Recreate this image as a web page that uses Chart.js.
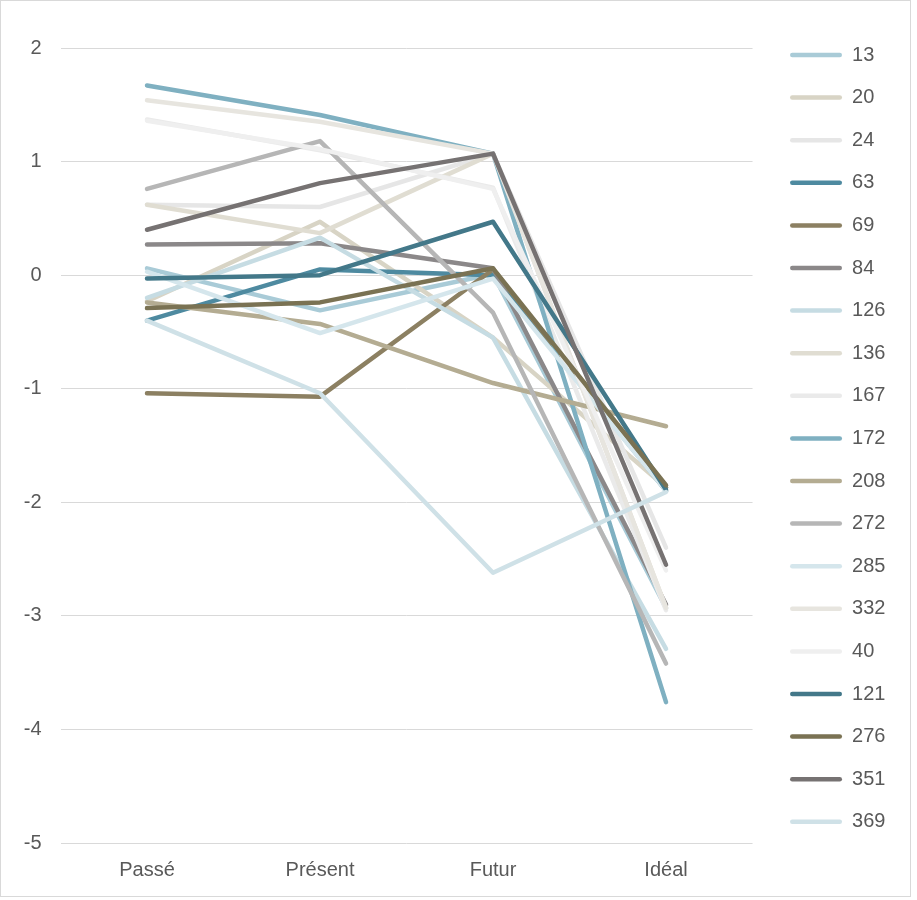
<!DOCTYPE html>
<html>
<head>
<meta charset="utf-8">
<script src="https://cdn.jsdelivr.net/npm/chart.js@4.4.1/dist/chart.umd.min.js"></script>
<style>
  html, body { margin: 0; padding: 0; background: #ffffff; }
  #frame {
    position: absolute; left: 0; top: 0;
    width: 909px; height: 895px;
    border: 1px solid #d9d9d9;
    background: #ffffff;
  }
  #chart { display: block; }
</style>
</head>
<body>
<div id="frame"><canvas id="chart" width="909" height="895"></canvas></div>
<script>
// Categories on the x axis
const categories = ['Passé', 'Présent', 'Futur', 'Idéal'];

// One array per respondent
const s13  = [0.06, -0.31, 0.01, -2.93];
const s20  = [-0.23, 0.47, -0.55, -1.87];
const s24  = [0.62, 0.60, 1.07, -2.40];
const s63  = [-0.40, 0.05, 0.00, -1.90];
const s69  = [-1.04, -1.07, 0.05, -1.87];
const s84  = [0.27, 0.28, 0.06, -2.90];
const s126 = [-0.20, 0.33, -0.55, -3.29];
const s136 = [0.62, 0.37, 1.07, -2.93];
const s167 = [1.37, 1.10, 0.77, -2.95];
const s172 = [1.67, 1.41, 1.07, -3.76];
const s208 = [-0.24, -0.43, -0.95, -1.33];
const s272 = [0.76, 1.18, -0.33, -3.42];
const s285 = [0.03, -0.51, -0.03, -1.90];
const s332 = [1.54, 1.35, 1.07, -2.93];
const s40  = [1.36, 1.11, 0.76, -2.60];
const s121 = [-0.03, 0.00, 0.47, -1.89];
const s276 = [-0.29, -0.24, 0.06, -1.85];
const s351 = [0.40, 0.81, 1.07, -2.55];
const s369 = [-0.40, -1.04, -2.62, -1.91];

// Legend names, in series order
const seriesNames = ['13', '20', '24', '63', '69', '84', '126', '136', '167', '172',
                     '208', '272', '285', '332', '40', '121', '276', '351', '369'];
const seriesValues = [s13, s20, s24, s63, s69, s84, s126, s136, s167, s172,
                      s208, s272, s285, s332, s40, s121, s276, s351, s369];

// Y axis range and step
const yMin = -5;
const yMax = 2;
const yStep = 1;

const seriesColors = [
  '#a9cbd7', '#d8d4c5', '#e6e6e6', '#4e8aa0', '#8c8062', '#8b8889',
  '#c6dce3', '#e0ddd2', '#eaeaea', '#7fb0c1', '#b4ac92', '#b6b6b6',
  '#d5e6ec', '#e7e5df', '#efefef', '#437889', '#7a7253', '#767272', '#cfe1e7'
];

const FONT = "'Liberation Sans', Arial, sans-serif";
const TEXT = '#595959';

const datasets = seriesNames.map((name, i) => ({
  label: name,
  data: seriesValues[i],
  borderColor: seriesColors[i],
  backgroundColor: seriesColors[i],
  borderWidth: 4.5,
  borderCapStyle: 'round',
  borderJoinStyle: 'round',
  pointRadius: 0,
  pointHoverRadius: 0,
  tension: 0,
  fill: false,
  order: -i            // later series are painted above earlier ones
}));

new Chart(document.getElementById('chart'), {
  type: 'line',
  data: { labels: categories, datasets },
  options: {
    responsive: false,
    animation: false,
    events: [],
    layout: { padding: { top: 21.4, left: 0, right: 14.6, bottom: 13 } },
    plugins: {
      title: {
        display: true,
        text: '',
        font: { size: 10 },
        padding: { top: 0, bottom: 13.6 }
      },
      tooltip: { enabled: false },
      legend: {
        position: 'right',
        align: 'start',
        labels: {
          font: { family: FONT, size: 20 },
          color: TEXT,
          boxWidth: 52,
          boxHeight: 4.5,
          padding: 22.6,
          sort: (a, b) => a.datasetIndex - b.datasetIndex,
          generateLabels(chart) {
            const items = Chart.defaults.plugins.legend.labels.generateLabels(chart);
            return items.map(it => Object.assign(it, {
              fillStyle: it.strokeStyle,
              lineWidth: 0,
              borderRadius: 2.25
            }));
          }
        }
      }
    },
    scales: {
      x: {
        offset: true,
        grid: { display: false, drawTicks: false },
        border: { display: false },
        ticks: { font: { family: FONT, size: 20 }, color: TEXT, padding: 15, maxRotation: 0 },
        afterFit(scale) { scale.height = 40; }
      },
      y: {
        min: yMin,
        max: yMax,
        grid: { color: '#d9d9d9', lineWidth: 1, drawTicks: false },
        border: { display: false },
        ticks: { stepSize: yStep, font: { family: FONT, size: 20 }, color: TEXT, padding: 19 },
        afterFit(scale) { scale.width = 59.5; }
      },
      gap: {
        position: 'right',
        display: true,
        grid: { display: false, drawTicks: false },
        border: { display: false },
        ticks: { display: false },
        afterFit(scale) { scale.width = 14.9; }
      }
    }
  }
});
</script>
</body>
</html>
